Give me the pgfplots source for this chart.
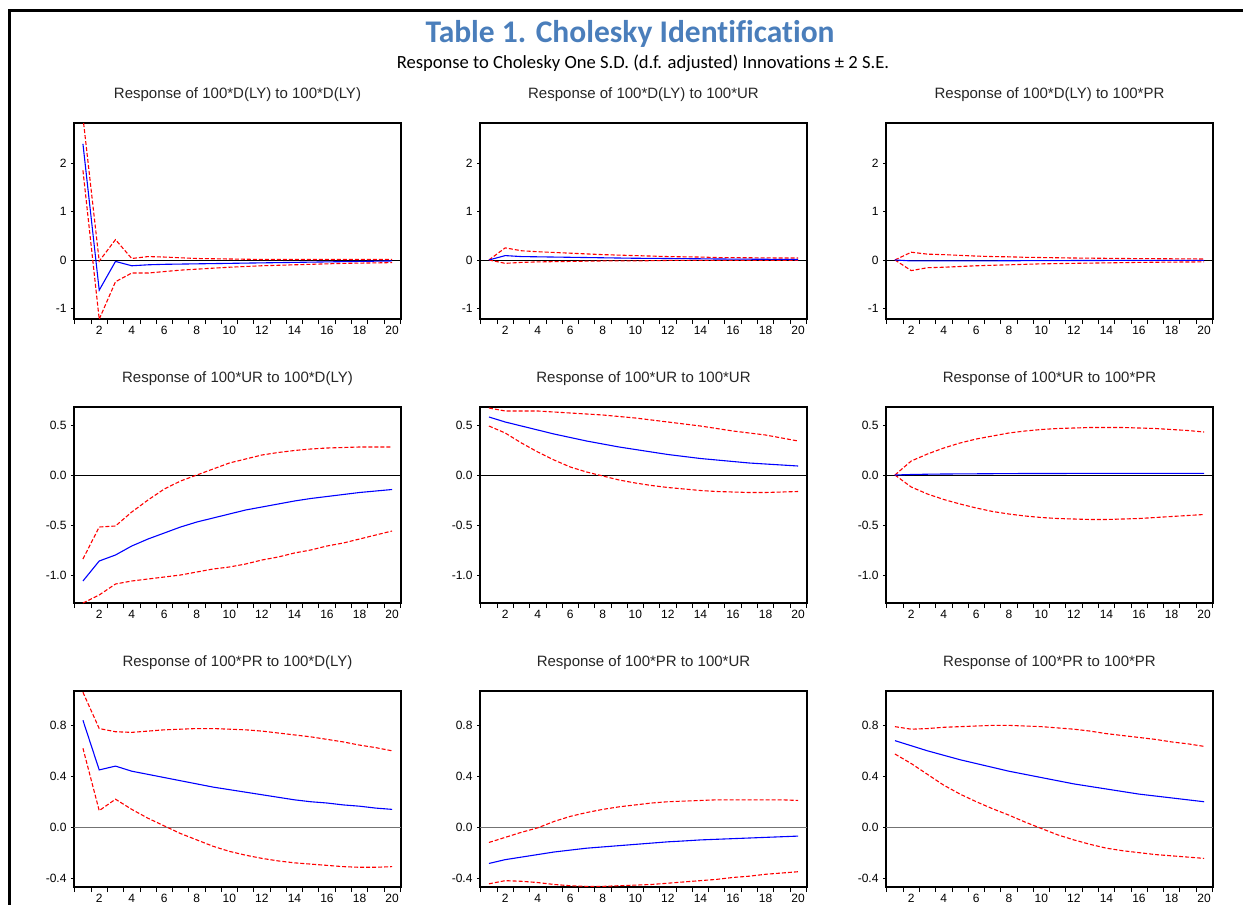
\documentclass[border=0pt]{standalone}
\usepackage{pgfplots}
\pgfplotsset{compat=1.18}
\usepackage{pgfplotstable}
\usepackage{fontspec}
\setmainfont{Liberation Sans}
\newfontfamily\calib[Ligatures=NoCommon]{Carlito}
\definecolor{ttlblue}{RGB}{74,126,187}

% k irf lo hi, one table per panel (response of row var to column shock)
\pgfplotstableread{
k irf lo hi
1 2.40 1.85 2.95
2 -0.625 -1.225 -0.025
3 -0.03 -0.45 0.42
4 -0.12 -0.27 0.03
5 -0.10 -0.27 0.07
6 -0.09 -0.24 0.06
7 -0.085 -0.21 0.045
8 -0.08 -0.19 0.03
9 -0.075 -0.17 0.025
10 -0.07 -0.15 0.02
11 -0.065 -0.135 0.015
12 -0.06 -0.12 0.01
13 -0.055 -0.11 0.01
14 -0.05 -0.10 0.01
15 -0.045 -0.09 0.01
16 -0.04 -0.08 0.01
17 -0.035 -0.07 0.01
18 -0.03 -0.065 0.01
19 -0.025 -0.06 0.01
20 -0.02 -0.055 0.01
}\tabYY
\pgfplotstableread{
k irf lo hi
1 0 0 0
2 0.09 -0.07 0.25
3 0.07 -0.05 0.19
4 0.065 -0.04 0.17
5 0.06 -0.035 0.155
6 0.055 -0.03 0.14
7 0.05 -0.025 0.125
8 0.045 -0.02 0.11
9 0.04 -0.02 0.10
10 0.035 -0.02 0.09
11 0.033 -0.015 0.08
12 0.03 -0.01 0.07
13 0.027 -0.01 0.065
14 0.024 -0.01 0.06
15 0.02 -0.01 0.05
16 0.018 -0.01 0.048
17 0.016 -0.01 0.045
18 0.014 -0.01 0.043
19 0.012 -0.01 0.04
20 0.01 -0.01 0.04
}\tabYU
\pgfplotstableread{
k irf lo hi
1 0 0 0
2 -0.02 -0.22 0.16
3 -0.02 -0.16 0.12
4 -0.02 -0.15 0.11
5 -0.02 -0.135 0.095
6 -0.02 -0.12 0.08
7 -0.018 -0.11 0.07
8 -0.016 -0.10 0.065
9 -0.015 -0.09 0.055
10 -0.014 -0.08 0.05
11 -0.013 -0.075 0.045
12 -0.012 -0.07 0.04
13 -0.011 -0.065 0.037
14 -0.01 -0.06 0.034
15 -0.01 -0.055 0.03
16 -0.01 -0.05 0.028
17 -0.01 -0.047 0.026
18 -0.01 -0.044 0.024
19 -0.01 -0.042 0.022
20 -0.01 -0.04 0.02
}\tabYP
\pgfplotstableread{
k irf lo hi
1 -1.06 -1.28 -0.84
2 -0.86 -1.20 -0.52
3 -0.80 -1.09 -0.51
4 -0.71 -1.06 -0.37
5 -0.64 -1.04 -0.25
6 -0.58 -1.02 -0.14
7 -0.52 -1.00 -0.06
8 -0.47 -0.97 0.00
9 -0.43 -0.94 0.06
10 -0.39 -0.92 0.12
11 -0.35 -0.89 0.16
12 -0.32 -0.85 0.20
13 -0.29 -0.82 0.225
14 -0.26 -0.78 0.245
15 -0.235 -0.75 0.26
16 -0.215 -0.71 0.27
17 -0.195 -0.68 0.275
18 -0.175 -0.64 0.28
19 -0.16 -0.60 0.28
20 -0.145 -0.56 0.28
}\tabUY
\pgfplotstableread{
k irf lo hi
1 0.58 0.49 0.67
2 0.53 0.42 0.64
3 0.49 0.32 0.64
4 0.45 0.23 0.64
5 0.41 0.15 0.63
6 0.375 0.08 0.62
7 0.34 0.03 0.61
8 0.31 -0.01 0.60
9 0.28 -0.05 0.585
10 0.255 -0.08 0.57
11 0.23 -0.105 0.55
12 0.205 -0.125 0.53
13 0.185 -0.14 0.51
14 0.165 -0.155 0.49
15 0.15 -0.165 0.465
16 0.135 -0.17 0.44
17 0.12 -0.175 0.42
18 0.11 -0.175 0.40
19 0.10 -0.17 0.37
20 0.09 -0.165 0.34
}\tabUU
\pgfplotstableread{
k irf lo hi
1 0 0 0
2 0.005 -0.12 0.14
3 0.008 -0.19 0.21
4 0.01 -0.245 0.27
5 0.011 -0.29 0.32
6 0.012 -0.33 0.36
7 0.013 -0.365 0.39
8 0.014 -0.39 0.42
9 0.015 -0.41 0.44
10 0.015 -0.425 0.455
11 0.015 -0.435 0.465
12 0.016 -0.44 0.47
13 0.016 -0.445 0.475
14 0.016 -0.445 0.475
15 0.016 -0.44 0.475
16 0.016 -0.435 0.47
17 0.016 -0.425 0.465
18 0.016 -0.415 0.455
19 0.016 -0.405 0.445
20 0.016 -0.395 0.43
}\tabUP
\pgfplotstableread{
k irf lo hi
1 0.84 0.62 1.06
2 0.45 0.13 0.775
3 0.48 0.22 0.75
4 0.44 0.14 0.745
5 0.415 0.07 0.755
6 0.39 0.01 0.765
7 0.365 -0.05 0.77
8 0.34 -0.10 0.775
9 0.315 -0.15 0.775
10 0.295 -0.19 0.77
11 0.275 -0.22 0.765
12 0.255 -0.245 0.755
13 0.235 -0.265 0.74
14 0.215 -0.28 0.725
15 0.20 -0.29 0.71
16 0.19 -0.30 0.69
17 0.175 -0.31 0.67
18 0.165 -0.315 0.645
19 0.15 -0.315 0.625
20 0.14 -0.31 0.60
}\tabPY
\pgfplotstableread{
k irf lo hi
1 -0.285 -0.445 -0.12
2 -0.255 -0.42 -0.08
3 -0.235 -0.425 -0.04
4 -0.215 -0.435 -0.005
5 -0.195 -0.45 0.045
6 -0.18 -0.46 0.085
7 -0.165 -0.465 0.115
8 -0.155 -0.465 0.14
9 -0.145 -0.46 0.16
10 -0.135 -0.455 0.175
11 -0.125 -0.45 0.19
12 -0.115 -0.44 0.20
13 -0.108 -0.43 0.205
14 -0.10 -0.42 0.21
15 -0.095 -0.41 0.215
16 -0.09 -0.395 0.215
17 -0.085 -0.385 0.215
18 -0.08 -0.37 0.215
19 -0.075 -0.36 0.215
20 -0.07 -0.35 0.21
}\tabPU
\pgfplotstableread{
k irf lo hi
1 0.68 0.575 0.79
2 0.64 0.50 0.77
3 0.60 0.415 0.775
4 0.565 0.33 0.785
5 0.53 0.26 0.79
6 0.50 0.20 0.795
7 0.47 0.145 0.80
8 0.44 0.095 0.80
9 0.415 0.04 0.795
10 0.39 -0.01 0.79
11 0.365 -0.06 0.78
12 0.34 -0.10 0.77
13 0.32 -0.135 0.755
14 0.30 -0.165 0.735
15 0.28 -0.185 0.72
16 0.26 -0.20 0.705
17 0.245 -0.215 0.69
18 0.23 -0.225 0.67
19 0.215 -0.235 0.655
20 0.20 -0.245 0.635
}\tabPP

\pgfplotsset{
  irf/.style={scale only axis, width=327pt, height=196pt, anchor=north west,
    xmin=0.45, xmax=20.55,
    xtick={2,4,...,20}, xticklabels={2,4,6,8,10,12,14,16,18,20},
    minor xtick={0.5,1.5,...,20.5},
    major x tick style={draw=none},
    major tick length=3pt, minor tick length=5pt,
    tick align=outside, xtick pos=bottom, ytick pos=left,
    axis line style={line width=1.1pt},
    tick style={black, line width=0.7pt},
    ticklabel style={font=\fontsize{12}{12}\selectfont},
    xticklabel style={yshift=-1pt},
    yticklabel style={xshift=-1pt}},
  row1/.style={ymin=-1.22, ymax=2.83, ytick={-1,0,1,2}, yticklabels={-1,0,1,2}},
  row2/.style={ymin=-1.28, ymax=0.68, ytick={-1,-0.5,0,0.5}, yticklabels={-1.0,-0.5,0.0,0.5}},
  row3/.style={ymin=-0.47, ymax=1.07, ytick={-0.4,0,0.4,0.8}, yticklabels={-0.4,0.0,0.4,0.8}},
  zl/.style={black, line width=0.8pt},
  mid/.style={blue, line width=1.1pt},
  band/.style={red, line width=1.1pt, dash pattern=on 4pt off 2pt},
}
\newcommand\irfpanel[2]{%
  \addplot[#2] coordinates {(0.45,0) (20.55,0)};
  \addplot[band] table[x=k, y=hi] {#1};
  \addplot[band] table[x=k, y=lo] {#1};
  \addplot[mid] table[x=k, y=irf] {#1};
}

\begin{document}
\begin{tikzpicture}
\useasboundingbox (0,0) rectangle (1243pt,-905pt);
\draw[line width=3pt] (8pt,-10.5pt) -- (1243pt,-10.5pt);
\draw[line width=3pt] (9.5pt,-9pt) -- (9.5pt,-905pt);

\node[anchor=base, text=ttlblue, font=\calib\bfseries\fontsize{31.5}{34}\selectfont] at (630pt,-42pt) {Table 1. Cholesky Identification};
\node[anchor=base, font=\calib\fontsize{18.6}{21}\selectfont] at (643pt,-68pt) {Response to Cholesky One S.D. (d.f. adjusted) Innovations \textpm\ 2 S.E.};

\begin{scope}[every node/.style={anchor=base, text=black!85, font=\fontsize{15}{18}\selectfont}]
\node at (237.5pt,-98pt) {Response of 100*D(LY) to 100*D(LY)};
\node at (643.5pt,-98pt) {Response of 100*D(LY) to 100*UR};
\node at (1049.5pt,-98pt) {Response of 100*D(LY) to 100*PR};
\node at (237.5pt,-382pt) {Response of 100*UR to 100*D(LY)};
\node at (643.5pt,-382pt) {Response of 100*UR to 100*UR};
\node at (1049.5pt,-382pt) {Response of 100*UR to 100*PR};
\node at (237.5pt,-666pt) {Response of 100*PR to 100*D(LY)};
\node at (643.5pt,-666pt) {Response of 100*PR to 100*UR};
\node at (1049.5pt,-666pt) {Response of 100*PR to 100*PR};
\end{scope}

\begin{axis}[irf, row1, at={(74pt,-123pt)}]
\irfpanel{\tabYY}{zl}
\end{axis}
\begin{axis}[irf, row1, at={(480pt,-123pt)}]
\irfpanel{\tabYU}{zl}
\end{axis}
\begin{axis}[irf, row1, at={(886pt,-123pt)}]
\irfpanel{\tabYP}{zl}
\end{axis}

\begin{axis}[irf, row2, at={(74pt,-407pt)}]
\irfpanel{\tabUY}{zl}
\end{axis}
\begin{axis}[irf, row2, at={(480pt,-407pt)}]
\irfpanel{\tabUU}{zl}
\end{axis}
\begin{axis}[irf, row2, at={(886pt,-407pt)}]
\irfpanel{\tabUP}{zl}
\end{axis}

\begin{axis}[irf, row3, at={(74pt,-691pt)}]
\irfpanel{\tabPY}{{black!55, line width=1pt}}
\end{axis}
\begin{axis}[irf, row3, at={(480pt,-691pt)}]
\irfpanel{\tabPU}{{black!55, line width=1pt}}
\end{axis}
\begin{axis}[irf, row3, at={(886pt,-691pt)}]
\irfpanel{\tabPP}{{black!55, line width=1pt}}
\end{axis}
\end{tikzpicture}
\end{document}
